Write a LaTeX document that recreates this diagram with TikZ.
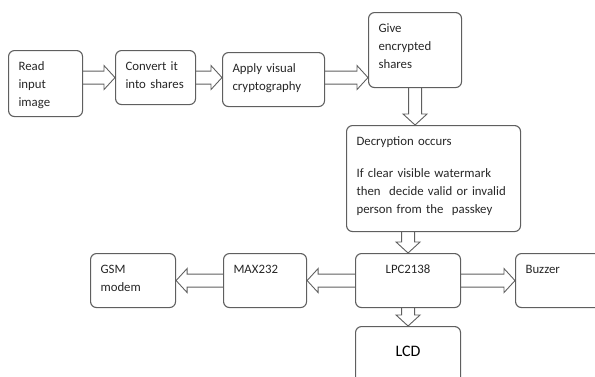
\documentclass[tikz,border=0pt]{standalone}
\usepackage{fontspec}
\setmainfont{Carlito}
\usepackage{tikz}
\usetikzlibrary{calc}
\definecolor{BoxGray}{HTML}{5F5F5F}
\definecolor{TextGray}{HTML}{262626}

\tikzset{
  blk/.style={draw=BoxGray, line width=1.1pt, rounded corners=6pt, anchor=north west,
    align=left, inner xsep=10pt, inner ysep=10pt, text height=10pt,
    text=TextGray, font=\fontsize{12.8}{18}\selectfont},
  hollow/.style={draw=BoxGray, line width=0.9pt,
    to path={($(\tikztostart)!6.5pt!90:(\tikztotarget)$)
      -- ($(\tikztotarget)!11pt!(\tikztostart)!6.5pt!90:(\tikztotarget)$)
      -- ($(\tikztotarget)!11pt!(\tikztostart)!12pt!90:(\tikztotarget)$)
      -- (\tikztotarget)
      -- ($(\tikztotarget)!11pt!(\tikztostart)!12pt!-90:(\tikztotarget)$)
      -- ($(\tikztotarget)!11pt!(\tikztostart)!6.5pt!-90:(\tikztotarget)$)
      -- ($(\tikztostart)!6.5pt!-90:(\tikztotarget)$)}}
}

\begin{document}
\begin{tikzpicture}[x=1pt, y=-1pt]
    \useasboundingbox (0,0) rectangle (595,376);

    \node[blk, text width=54pt, text depth=36pt] (rd) at (8,50) {Read\\input\\image};
    \node[blk, text width=60pt, text depth=24pt] (cv) at (115,50) {Convert it\\into shares};
    \node[blk, text width=82pt, text depth=24pt] (ap) at (222,52) {Apply visual\\cryptography};
    \node[blk, text width=73pt, text depth=45pt] (gv) at (368,12) {Give\\encrypted\\shares};
    \node[blk, text width=154pt, text depth=76pt] (dec) at (346,125)
        {Decryption occurs\\[14pt]If clear visible watermark\\then~ decide valid or invalid\\person from the~ passkey};
    \node[blk, text width=65pt, text depth=24pt] (gsm) at (90,253) {GSM\\modem};
    \node[blk, text width=63pt, text depth=24pt] (max) at (223,253) {MAX232};
    \node[blk, text width=85pt, text depth=24pt, align=center] (lpc) at (355,253) {LPC2138};
    \node[blk, text width=82pt, text depth=24pt] (buz) at (515,253) {Buzzer};
    \node[blk, text width=85pt, inner ysep=0pt, text height=30pt, text depth=30pt, align=center,
        font=\fontsize{16}{19}\selectfont, text=black] (lcd) at (355,326) {LCD};

    \draw[hollow] (rd.east |- cv.west) to (cv.west);
    \draw[hollow] (cv.east) to (ap.west |- cv.east);
    \draw[hollow] (ap.east |- cv.east) to (gv.west |- cv.east);
    \draw[hollow] (gv.south) to (gv.south |- dec.north);
    \draw[hollow] (lpc.north |- dec.south) to (lpc.north);
    \draw[hollow] (lpc.west) to (max.east);
    \draw[hollow] (max.west) to (gsm.east);
    \draw[hollow] (lpc.east) to (buz.west);
    \draw[hollow] (lpc.south) to (lcd.north);
\end{tikzpicture}
\end{document}
